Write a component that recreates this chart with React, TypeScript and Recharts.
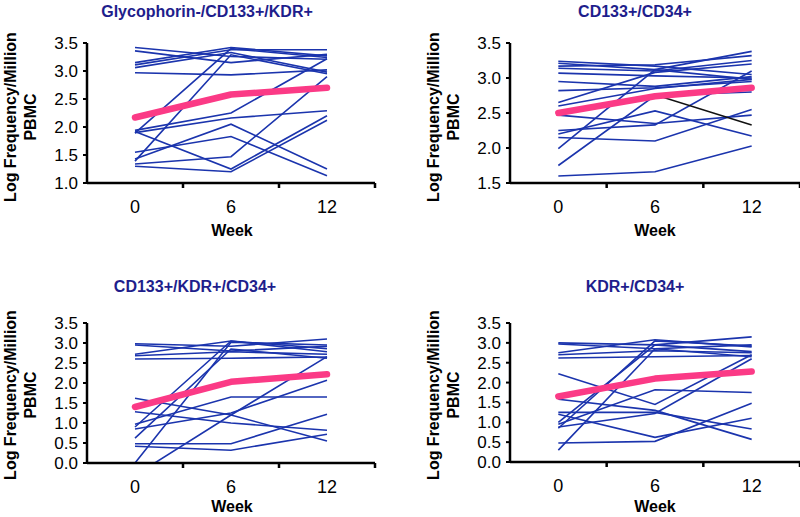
import React from 'react';
import { LineChart, Line, XAxis, YAxis } from 'recharts';

const weeks = [0, 6, 12];
const weekTicks = [0, 3, 6, 9, 12, 15];
const labeledWeeks = [0, 6, 12];

const titles = ['Glycophorin-/CD133+/KDR+', 'CD133+/CD34+', 'CD133+/KDR+/CD34+', 'KDR+/CD34+'];
const yLabelLine1 = 'Log Frequency/Million';
const yLabelLine2 = 'PBMC';
const xLabel = 'Week';

const yTicksGlyco = [1.0, 1.5, 2.0, 2.5, 3.0, 3.5];
const yTicksCd133Cd34 = [1.5, 2.0, 2.5, 3.0, 3.5];
const yTicksBottom = [0.0, 0.5, 1.0, 1.5, 2.0, 2.5, 3.0, 3.5];

// each row: values at week 0, 6, 12
const glyco: number[][] = [
  [3.42, 3.26, 3.21],
  [3.36, 3.15, 3.3],
  [3.15, 3.42, 3.27],
  [3.11, 3.38, 3.38],
  [3.06, 3.33, 2.98],
  [2.97, 2.93, 3.02],
  [1.89, 3.4, 3.24],
  [1.39, 3.29, 2.95],
  [1.94, 2.25, 3.22],
  [1.9, 2.16, 2.29],
  [1.43, 2.05, 1.25],
  [1.55, 1.83, 1.13],
  [1.34, 1.47, 2.9],
  [1.3, 1.2, 2.12],
  [1.92, 1.25, 2.2],
];
const glycoMean = [2.17, 2.58, 2.7];

const cd133cd34: number[][] = [
  [3.24, 3.17, 3.05],
  [3.21, 3.12, 3.38],
  [3.17, 3.19, 3.32],
  [3.14, 3.1, 3.25],
  [3.07, 3.03, 3.0],
  [2.95, 2.88, 3.02],
  [2.82, 2.86, 2.95],
  [2.65, 3.08, 3.2],
  [2.6, 2.85, 2.98],
  [2.47, 2.35, 2.47],
  [2.25, 2.33, 3.1],
  [2.2, 2.53, 2.17],
  [2.15, 2.1, 2.55],
  [1.99, 3.12, 2.98],
  [1.75, 2.75, 2.8],
  [1.6, 1.66, 2.03],
];
const cd133cd34Black = [2.5, 2.76, 2.33];
const cd133cd34Mean = [2.5, 2.74, 2.86];

const triple: number[][] = [
  [2.98, 2.92, 3.1],
  [2.95, 2.8, 2.92],
  [2.72, 3.05, 2.86],
  [2.68, 2.78, 2.72],
  [2.6, 2.62, 2.65],
  [0.0, 3.02, 2.95],
  [0.9, 3.05, 2.78],
  [0.62, 2.85, 2.62],
  [-0.31, 1.2, 2.66],
  [1.62, 1.2, 0.55],
  [1.28, 1.0, 0.82],
  [0.97, 1.65, 1.65],
  [0.85, 1.25, 2.07],
  [0.48, 0.48, 1.22],
  [0.42, 0.32, 0.72],
];
const tripleMean = [1.4, 2.03, 2.22];

const kdrcd34: number[][] = [
  [3.0, 2.95, 3.15],
  [2.97, 2.85, 2.95],
  [2.75, 3.08, 2.9],
  [2.7, 2.8, 2.75],
  [2.62, 2.65, 2.68],
  [0.85, 3.05, 2.92],
  [1.0, 2.95, 2.78],
  [0.3, 2.85, 2.65],
  [2.22, 1.45, 2.7],
  [1.58, 1.3, 0.57],
  [1.25, 1.25, 0.83],
  [0.95, 1.82, 1.75],
  [0.88, 1.22, 2.6],
  [1.2, 0.62, 1.1],
  [0.48, 0.52, 1.48],
];
const kdrcd34Mean = [1.65, 2.1, 2.28];

const FONT = 'Liberation Sans, Arial, sans-serif';
const BLUE = '#1b34ad';
const TITLE_BLUE = '#1e1e8c';
const PINK = '#fb3a86';

function buildRows(subjects: number[][], mean: number[], extra?: number[]) {
  return weeks.map((w, i) => {
    const row: Record<string, number> = { week: w, mean: mean[i] };
    subjects.forEach((s, k) => {
      row['s' + k] = s[i];
    });
    if (extra) row.extra = extra[i];
    return row;
  });
}

const XTick = (props: any) => {
  const { x, y, payload } = props;
  const v = payload.value;
  if (labeledWeeks.includes(v)) {
    return (
      <text x={x} y={y + 30} textAnchor="middle" fontSize={18} fontFamily={FONT} fill="#000">
        {v}
      </text>
    );
  }
  return <line x1={x} x2={x} y1={y} y2={y + 5} stroke="#000" strokeWidth={2.5} />;
};

const YTick = (props: any) => {
  const { x, y, payload } = props;
  return (
    <text x={x} y={y} dy={6} textAnchor="end" fontSize={17} fontFamily={FONT} fill="#000">
      {Number(payload.value).toFixed(1)}
    </text>
  );
};

type PanelProps = {
  left: number;
  top: number;
  width: number;
  height: number;
  margin: { top: number; right: number; bottom: number; left: number };
  yWidth: number;
  xHeight: number;
  yTicks: number[];
  subjects: number[][];
  mean: number[];
  extra?: number[];
};

const Panel = ({ left, top, width, height, margin, yWidth, xHeight, yTicks, subjects, mean, extra }: PanelProps) => {
  const rows = buildRows(subjects, mean, extra);
  return (
    <div style={{ position: 'absolute', left, top, width, height }}>
      <LineChart width={width} height={height} data={rows} margin={margin}>
        <XAxis
          type="number"
          dataKey="week"
          domain={[-3, 15]}
          ticks={weekTicks}
          interval={0}
          tickSize={0}
          tickMargin={0}
          tickLine={false}
          tick={<XTick />}
          height={xHeight}
          axisLine={{ stroke: '#000', strokeWidth: 2.5 }}
          allowDataOverflow
        />
        <YAxis
          type="number"
          domain={[yTicks[0], yTicks[yTicks.length - 1]]}
          ticks={yTicks}
          interval={0}
          width={yWidth}
          tickSize={4}
          tickMargin={5}
          tickLine={{ stroke: '#000', strokeWidth: 2 }}
          tick={<YTick />}
          axisLine={{ stroke: '#000', strokeWidth: 2.5 }}
          allowDataOverflow
        />
        {subjects.map((_, k) => (
          <Line
            key={k}
            dataKey={'s' + k}
            stroke={BLUE}
            strokeWidth={1.6}
            dot={false}
            activeDot={false}
            isAnimationActive={false}
          />
        ))}
        {extra ? (
          <Line
            dataKey="extra"
            stroke="#111"
            strokeWidth={1.6}
            dot={false}
            activeDot={false}
            isAnimationActive={false}
          />
        ) : null}
        <Line
          dataKey="mean"
          stroke={PINK}
          strokeWidth={6.5}
          strokeLinecap="round"
          strokeLinejoin="round"
          dot={false}
          activeDot={false}
          isAnimationActive={false}
        />
      </LineChart>
    </div>
  );
};

const YLabel = ({ x, cy }: { x: number; cy: number }) => (
  <g fontFamily={FONT} fontWeight="bold" fontSize={16} fill="#000">
    <text transform={`translate(${x},${cy}) rotate(-90)`} textAnchor="middle">
      {yLabelLine1}
    </text>
    <text transform={`translate(${x + 20},${cy}) rotate(-90)`} textAnchor="middle">
      {yLabelLine2}
    </text>
  </g>
);

export default function App() {
  return (
    <div style={{ position: 'absolute', left: 0, top: 0, width: 800, height: 517, background: '#fff', overflow: 'hidden' }}>
      <Panel
        left={0}
        top={0}
        width={400}
        height={258}
        margin={{ top: 43, right: 25, bottom: 15, left: 0 }}
        yWidth={87}
        xHeight={60}
        yTicks={yTicksGlyco}
        subjects={glyco}
        mean={glycoMean}
      />
      <Panel
        left={400}
        top={0}
        width={400}
        height={258}
        margin={{ top: 43, right: 0, bottom: 15, left: 0 }}
        yWidth={110}
        xHeight={60}
        yTicks={yTicksCd133Cd34}
        subjects={cd133cd34}
        mean={cd133cd34Mean}
        extra={cd133cd34Black}
      />
      <Panel
        left={0}
        top={258}
        width={400}
        height={259}
        margin={{ top: 65, right: 25, bottom: 10, left: 0 }}
        yWidth={87}
        xHeight={44}
        yTicks={yTicksBottom}
        subjects={triple}
        mean={tripleMean}
      />
      <Panel
        left={400}
        top={258}
        width={400}
        height={259}
        margin={{ top: 65, right: 0, bottom: 10, left: 0 }}
        yWidth={110}
        xHeight={45}
        yTicks={yTicksBottom}
        subjects={kdrcd34}
        mean={kdrcd34Mean}
      />
      <svg width={800} height={517} style={{ position: 'absolute', left: 0, top: 0, pointerEvents: 'none' }}>
        <g fontFamily={FONT} fontWeight="bold" fontSize={16} fill={TITLE_BLUE} textAnchor="middle">
          <text x={207} y={17}>{titles[0]}</text>
          <text x={635} y={17}>{titles[1]}</text>
          <text x={195} y={292}>{titles[2]}</text>
          <text x={635} y={292}>{titles[3]}</text>
        </g>
        <g fontFamily={FONT} fontWeight="bold" fontSize={16} fill="#000" textAnchor="middle">
          <text x={232} y={236}>{xLabel}</text>
          <text x={655} y={236}>{xLabel}</text>
          <text x={232} y={512}>{xLabel}</text>
          <text x={655} y={512}>{xLabel}</text>
        </g>
        <YLabel x={16} cy={117} />
        <YLabel x={439} cy={117} />
        <YLabel x={16} cy={395} />
        <YLabel x={439} cy={395} />
      </svg>
    </div>
  );
}
